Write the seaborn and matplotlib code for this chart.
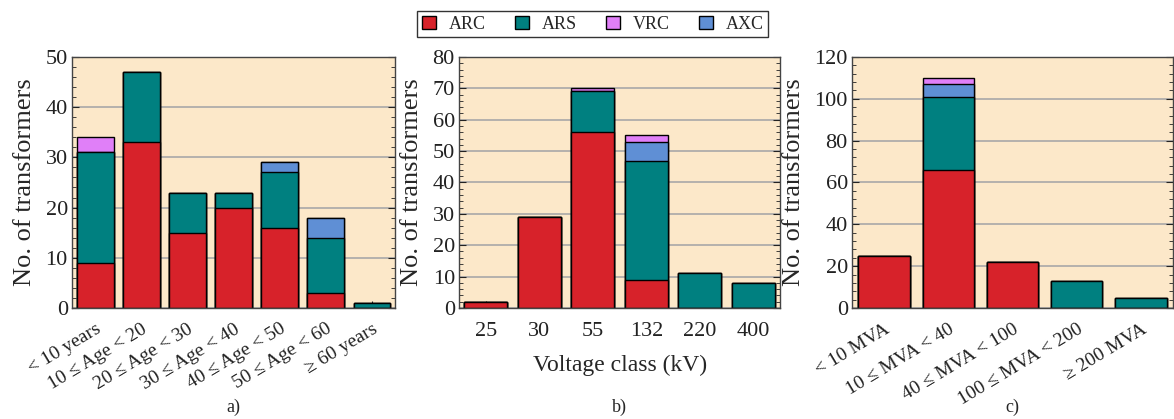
import numpy as np
import matplotlib
matplotlib.use("Agg")
import matplotlib.pyplot as plt
from matplotlib.patches import Patch
from matplotlib.ticker import MultipleLocator, AutoMinorLocator
import seaborn as sns

# panel a) age
age_labels = ["< 10 years", "10 ≤ Age < 20", "20 ≤ Age < 30", "30 ≤ Age < 40",
              "40 ≤ Age < 50", "50 ≤ Age < 60", "≥ 60 years"]
age_arc = [9, 33, 15, 20, 16, 3, 0]
age_ars = [22, 14, 8, 3, 11, 11, 1]
age_axc = [0, 0, 0, 0, 2, 4, 0]
age_vrc = [3, 0, 0, 0, 0, 0, 0]

# panel b) voltage class
volt_labels = ["25", "30", "55", "132", "220", "400"]
volt_arc = [2, 29, 56, 9, 0, 0]
volt_ars = [0, 0, 13, 38, 11, 8]
volt_axc = [0, 0, 0, 6, 0, 0]
volt_vrc = [0, 0, 1, 2, 0, 0]

# panel c) rated power
mva_labels = ["< 10 MVA", "10 ≤ MVA < 40", "40 ≤ MVA < 100",
              "100 ≤ MVA < 200", "≥ 200 MVA"]
mva_arc = [25, 66, 22, 0, 0]
mva_ars = [0, 35, 0, 13, 5]
mva_axc = [0, 6, 0, 0, 0]
mva_vrc = [0, 3, 0, 0, 0]

colors = {"ARC": "#d7222a", "ARS": "#008080", "VRC": "#e07ff8", "AXC": "#5f8fd5"}
bg = "#fce8c9"

sns.set_style("ticks")
plt.rcParams["font.family"] = ["Liberation Serif", "DejaVu Serif"]

fig = plt.figure(figsize=(11.74, 4.19), dpi=100)
ax_a = fig.add_axes([0.0613, 0.265, 0.2752, 0.599])
ax_b = fig.add_axes([0.391, 0.265, 0.2735, 0.599])
ax_c = fig.add_axes([0.7257, 0.265, 0.2735, 0.599])


def stacked(ax, labels, arc, ars, axc, vrc, ymax, ystep):
    c1 = np.array(arc)
    c2 = c1 + np.array(ars)
    c3 = c2 + np.array(axc)
    c4 = c3 + np.array(vrc)
    # draw from the top layer down so each lower segment covers the one above
    for tot, key in [(c4, "VRC"), (c3, "AXC"), (c2, "ARS"), (c1, "ARC")]:
        sns.barplot(x=labels, y=tot, color=colors[key], saturation=1, width=0.8,
                    edgecolor="black", linewidth=1.0, ax=ax)
    ax.set_facecolor(bg)
    ax.set_xlim(-0.5, len(labels) - 0.5)
    ax.set_ylim(0, ymax)
    ax.yaxis.set_major_locator(MultipleLocator(ystep))
    ax.yaxis.set_minor_locator(AutoMinorLocator(5))
    ax.yaxis.grid(True, color="#a8a8a8", lw=1.2)
    ax.set_axisbelow(True)
    ax.tick_params(axis="both", which="both", direction="in", right=True,
                   colors="#222222", labelsize=16)
    ax.tick_params(axis="both", which="major", length=5)
    ax.tick_params(axis="y", which="minor", length=3)
    ax.tick_params(axis="y", pad=3)
    for s in ax.spines.values():
        s.set_color("#444444")
        s.set_linewidth(1.0)
    ax.set_ylabel("No. of transformers", fontsize=19, labelpad=7)
    ax.set_xlabel("")


stacked(ax_a, age_labels, age_arc, age_ars, age_axc, age_vrc, 50, 10)
stacked(ax_b, volt_labels, volt_arc, volt_ars, volt_axc, volt_vrc, 80, 10)
stacked(ax_c, mva_labels, mva_arc, mva_ars, mva_axc, mva_vrc, 120, 20)

for ax in (ax_a, ax_c):
    plt.setp(ax.get_xticklabels(), rotation=31, ha="right", rotation_mode="anchor",
             fontsize=14)
    ax.tick_params(axis="x", pad=9)
ax_b.tick_params(axis="x", pad=10)
ax_b.set_xlabel("Voltage class (kV)", fontsize=17, labelpad=10)

fig.text(0.199, 0.029, "a)", ha="center", va="center", fontsize=13)
fig.text(0.528, 0.029, "b)", ha="center", va="center", fontsize=13)
fig.text(0.862, 0.029, "c)", ha="center", va="center", fontsize=13)

handles = [Patch(facecolor=colors[k], edgecolor="black", label=k)
           for k in ["ARC", "ARS", "VRC", "AXC"]]
leg = fig.legend(handles=handles, loc="upper center", bbox_to_anchor=(0.505, 0.995),
                 ncol=4, frameon=True, fancybox=False, fontsize=13,
                 handlelength=0.8, handleheight=0.8, columnspacing=1.6,
                 handletextpad=0.7, borderpad=0.25)
leg.get_frame().set_edgecolor("black")
leg.get_frame().set_linewidth(1.0)

fig.savefig("out.png", dpi=100)
